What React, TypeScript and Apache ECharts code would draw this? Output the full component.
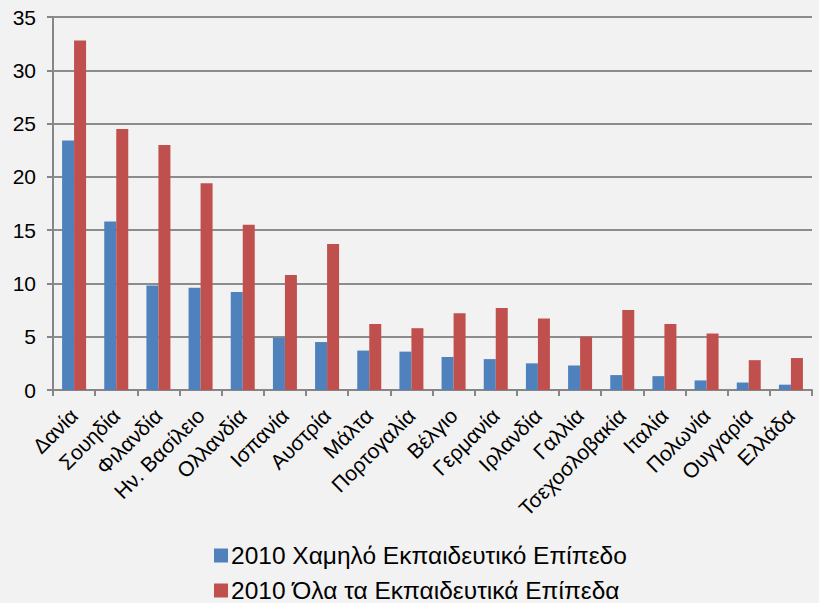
import React, { useEffect, useRef } from "react";
import * as echarts from "echarts";

const categories = [
  "Δανία", "Σουηδία", "Φιλανδία", "Ην. Βασίλειο", "Ολλανδία", "Ισπανία",
  "Αυστρία", "Μάλτα", "Πορτογαλία", "Βέλγιο", "Γερμανία", "Ιρλανδία",
  "Γαλλία", "Τσεχοσλοβακία", "Ιταλία", "Πολωνία", "Ουγγαρία", "Ελλάδα",
];
const lowEducation = [23.4, 15.8, 9.8, 9.6, 9.2, 4.9, 4.5, 3.7, 3.6, 3.1, 2.9, 2.5, 2.3, 1.4, 1.3, 0.9, 0.7, 0.5];
const allEducation = [32.8, 24.5, 23.0, 19.4, 15.5, 10.8, 13.7, 6.2, 5.8, 7.2, 7.7, 6.7, 5.0, 7.5, 6.2, 5.3, 2.8, 3.0];
const seriesNames = ["2010 Χαμηλό Εκπαιδευτικό Επίπεδο", "2010 Όλα τα Εκπαιδευτικά Επίπεδα"];

export default function App() {
  const ref = useRef<HTMLDivElement>(null);
  useEffect(() => {
    if (!ref.current) return;
    const chart = echarts.init(ref.current, null, { renderer: "svg" });
    const font = "'Liberation Sans', Arial, sans-serif";
    const legendBase = {
      orient: "horizontal",
      left: 214,
      itemWidth: 14,
      itemHeight: 14,
      itemGap: 10,
      icon: "rect",
      padding: 0,
      textStyle: { fontSize: 24.5, color: "#000", fontFamily: font, padding: [0, 0, 0, -2] },
    };
    chart.setOption({
      animation: false,
      backgroundColor: "#F2F2F2",
      textStyle: { fontFamily: font },
      grid: { left: 53, right: 7, top: 17, bottom: 213 },
      legend: [
        { ...legendBase, top: 543, data: [seriesNames[0]] },
        { ...legendBase, top: 578, data: [seriesNames[1]] },
      ],
      xAxis: {
        type: "category",
        data: categories,
        axisLine: { lineStyle: { color: "#868686", width: 2 } },
        axisTick: { show: true, length: 6, lineStyle: { color: "#868686", width: 2 } },
        axisLabel: { rotate: 45, fontSize: 21, color: "#000", margin: 22, interval: 0, fontFamily: font },
      },
      yAxis: {
        type: "value",
        min: 0,
        max: 35,
        interval: 5,
        axisLine: { show: true, lineStyle: { color: "#868686", width: 2 } },
        axisTick: { show: true, length: 6, lineStyle: { color: "#868686", width: 2 } },
        axisLabel: { fontSize: 21, color: "#000", margin: 17, fontFamily: font },
        splitLine: { lineStyle: { color: "#8C8C8C", width: 2 } },
      },
      series: [
        {
          name: seriesNames[0],
          type: "bar",
          data: lowEducation,
          barWidth: 12,
          barGap: "0%",
          itemStyle: { color: "#4F81BD" },
        },
        {
          name: seriesNames[1],
          type: "bar",
          data: allEducation,
          barWidth: 12,
          barGap: "0%",
          itemStyle: { color: "#C0504D" },
        },
      ],
    });
    return () => chart.dispose();
  }, []);
  return <div ref={ref} style={{ width: 819, height: 603, position: "absolute", left: 0, top: 0 }} />;
}
